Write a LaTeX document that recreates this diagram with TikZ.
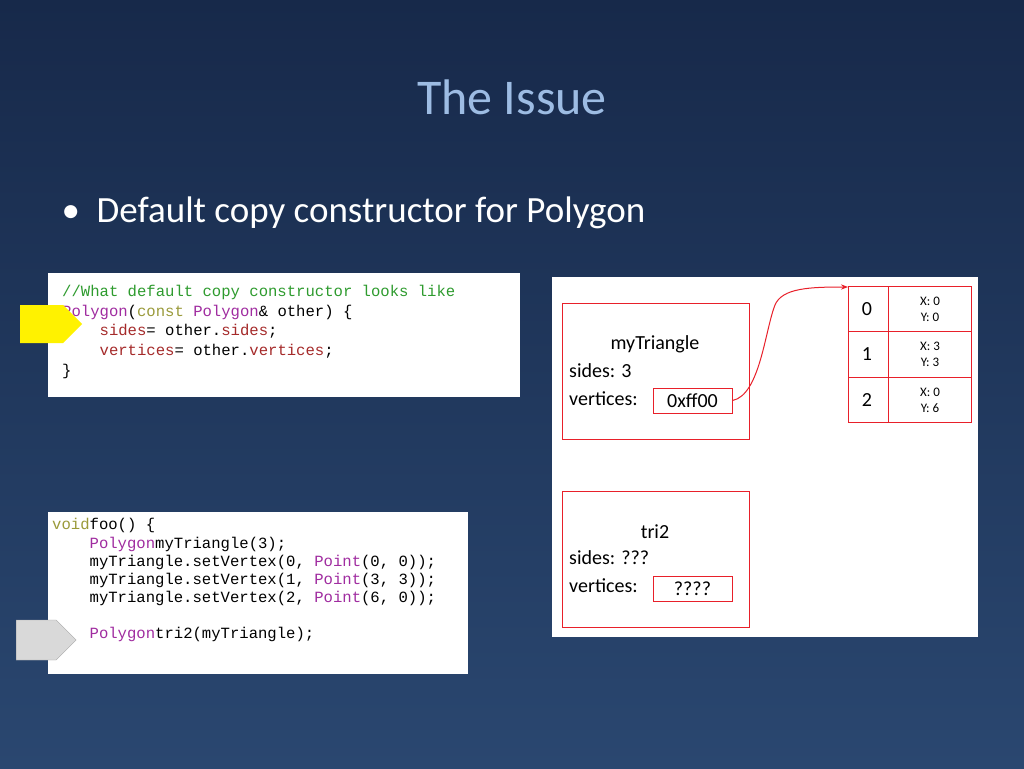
\documentclass[tikz,border=0pt]{standalone}
\usepackage{fontspec}
\setmainfont{Carlito}
\setmonofont{Liberation Mono}
\usetikzlibrary{arrows.meta,shapes.arrows}
\definecolor{titleblue}{HTML}{9DBCE3}
\definecolor{bgtop}{HTML}{17294A}
\definecolor{bgbot}{HTML}{2A4770}
\definecolor{cgreen}{HTML}{2E9B2E}
\definecolor{cpurple}{HTML}{A02CA0}
\definecolor{cred}{HTML}{A52A2A}
\definecolor{cyel}{HTML}{9A9A3A}
\definecolor{redline}{HTML}{E8202A}
\tikzset{
  codebox/.style={fill=white,draw=none},
  code/.style={anchor=west,inner sep=0pt,font=\fontsize{15.6}{18}\ttfamily},
  rbox/.style={draw=redline,line width=1pt},
  ptxt/.style={anchor=west,inner sep=0pt,font=\fontsize{20}{24}\selectfont},
  small/.style={font=\fontsize{13}{14}\selectfont,align=center,inner sep=0pt},
}
\begin{document}
\begin{tikzpicture}[x=1pt,y=-1pt]
\shade[top color=bgtop,bottom color=bgbot] (0,0) rectangle (1024,768);
\useasboundingbox (0,0) rectangle (1024,768);
\node[text=titleblue,font=\fontsize{50}{60}\selectfont] (title) at (512,97) {The Issue};
\node[text=white,anchor=west,font=\fontsize{37}{44}\selectfont] (bullet) at (58,213) {\textbullet\ \ Default copy constructor for Polygon};
% code box 1
\node[codebox,minimum width=472,minimum height=124,anchor=north west] (c1) at (48,273) {};
\node[code] (l1) at (62,292) {\color{cgreen}//What default copy constructor looks like};
\node[code] (l2) at (62,312) {\color{cpurple}Polygon\color{black}(\color{cyel}const \color{cpurple}Polygon\color{black}\& other) \{};
\node[code] (l3) at (62,331) {\phantom{xxxx}\color{cred}sides\color{black} = other.\color{cred}sides\color{black};};
\node[code] (l4) at (62,351) {\phantom{xxxx}\color{cred}vertices\color{black} = other.\color{cred}vertices\color{black};};
\node[code] (l5) at (62,371) {\}};
\node[single arrow,fill=yellow,draw=none,minimum height=62,minimum width=38,single arrow head extend=0pt,single arrow tip angle=90,inner sep=0pt,anchor=tail] (ya) at (20,324) {};
% code box 2
\node[codebox,minimum width=420,minimum height=162,anchor=north west] (c2) at (48,512) {};
\node[code] (m1) at (52,525) {\color{cyel}void\color{black} foo() \{};
\node[code] (m2) at (52,544) {\phantom{xxxx}\color{cpurple}Polygon\color{black} myTriangle(3);};
\node[code] (m3) at (52,562) {\phantom{xxxx}myTriangle.setVertex(0, \color{cpurple}Point\color{black}(0, 0));};
\node[code] (m4) at (52,580) {\phantom{xxxx}myTriangle.setVertex(1, \color{cpurple}Point\color{black}(3, 3));};
\node[code] (m5) at (52,598) {\phantom{xxxx}myTriangle.setVertex(2, \color{cpurple}Point\color{black}(6, 0));};
\node[code] (m6) at (52,634) {\phantom{xxxx}\color{cpurple}Polygon\color{black} tri2(myTriangle);};
\node[code] (m7) at (52,652) {\}};
\node[single arrow,fill=gray!30,draw=gray!70,minimum height=60,minimum width=40,single arrow head extend=0pt,single arrow tip angle=90,inner sep=0pt,anchor=tail] (ga) at (16,640) {};
% panel
\node[codebox,minimum width=426,minimum height=360,anchor=north west] (panel) at (552,277) {};
\draw[rbox] (562,303) rectangle (749,439);
\node[font=\fontsize{20}{24}\selectfont] (n1) at (655,344) {myTriangle};
\node[ptxt] (s1) at (569,371) {sides: 3};
\node[ptxt] (v1) at (569,399) {vertices:};
\node[rbox,minimum width=79,minimum height=25,inner sep=0pt,font=\fontsize{20}{24}\selectfont] (p1) at (692.5,400.5) {0xff00};
\draw[rbox] (562,491) rectangle (749,627);
\node[font=\fontsize{20}{24}\selectfont] (n2) at (655,532) {tri2};
\node[ptxt] (s2) at (569,558) {sides: ???};
\node[ptxt] (v2) at (569,586) {vertices:};
\node[rbox,minimum width=79,minimum height=25,inner sep=0pt,font=\fontsize{20}{24}\selectfont] (p2) at (692.5,588.5) {????};
% array
\draw[rbox] (848,286) rectangle (971,422);
\draw[rbox] (888,286) -- (888,422) (848,331) -- (971,331) (848,377) -- (971,377);
\coordinate (arr) at (848,287);
\node[font=\fontsize{20}{24}\selectfont] (i0) at (867,309) {0};
\node[font=\fontsize{20}{24}\selectfont] (i1) at (867,354) {1};
\node[font=\fontsize{20}{24}\selectfont] (i2) at (867,400) {2};
\node[small] (v0) at (930,309) {X: 0\\[2pt]Y: 0};
\node[small] (vv1) at (930,354) {X: 3\\[2pt]Y: 3};
\node[small] (vv2) at (930,400) {X: 0\\[2pt]Y: 6};
\draw[redline,line width=1pt,-{Stealth[length=7pt]}] (p1.east) .. controls (760,395) and (765,330) .. (775,305) .. controls (782,288) and (810,287) .. (arr);
\end{tikzpicture}
\end{document}
